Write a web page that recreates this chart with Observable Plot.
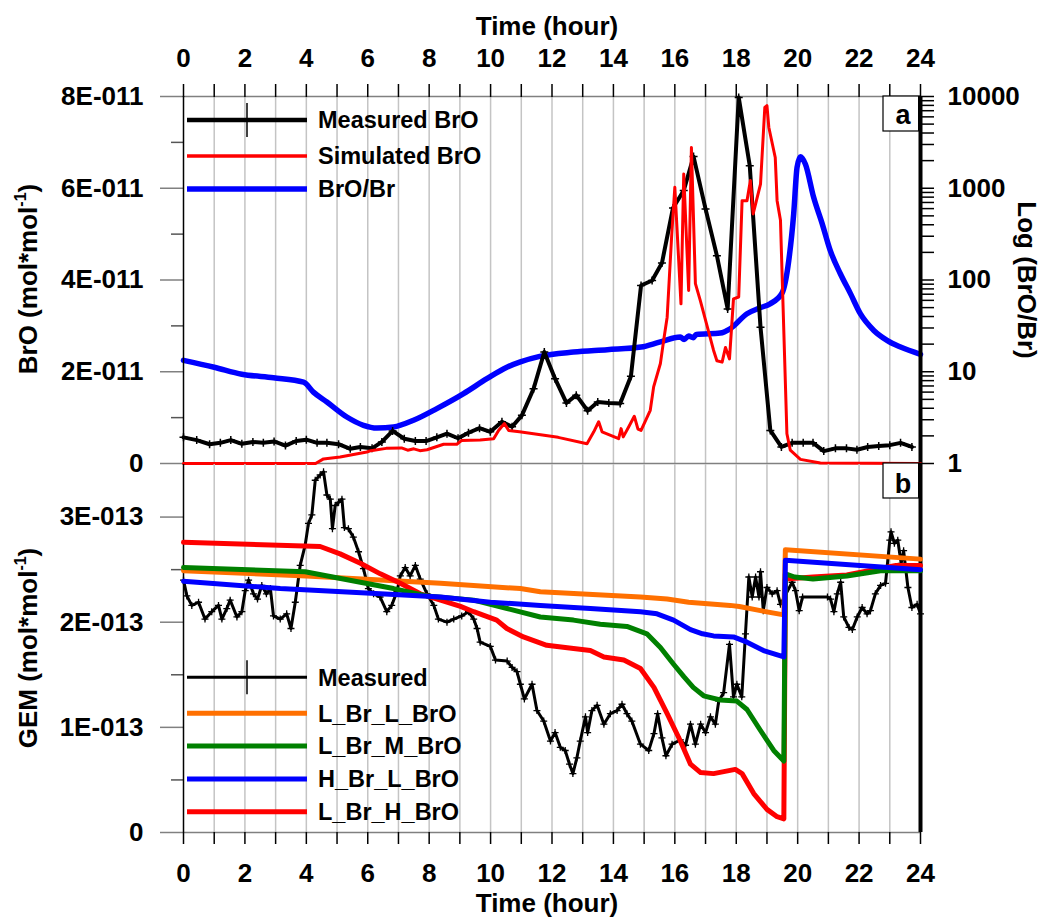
<!DOCTYPE html>
<html>
<head>
<meta charset="utf-8">
<script src="https://cdn.jsdelivr.net/npm/d3@7"></script>
<script src="https://cdn.jsdelivr.net/npm/@observablehq/plot@0.6"></script>
<style>
html, body { margin: 0; padding: 0; background: #fff; overflow: hidden; }
#chart { position: relative; width: 1043px; height: 918px; font-family: "Liberation Sans", Arial, sans-serif; font-weight: bold; color: #000; }
#chart svg { position: absolute; left: 0; overflow: visible; }
.ylab { position: absolute; white-space: nowrap; font-size: 26px; line-height: 1; transform: translate(-50%, -50%) rotate(-90deg); }
.ylab sup { font-size: 16px; vertical-align: 0; position: relative; top: -0.7em; }
</style>
</head>
<body>
<div id="chart"></div>
<script>
// ---------- axis ticks & labels ----------
const hours = d3.range(0, 25);
const hourLabels = hours.map(h => (h % 2 === 0 ? String(h) : ""));
const broTicks = [0, 2, 4, 6, 8];                 // units of 1E-011
const broTickLabels = ["0", "2E-011", "4E-011", "6E-011", "8E-011"];
const broMinorTicks = [1, 3, 5, 7];
const ratioTicks = [1, 10, 100, 1000, 10000];
const ratioTickLabels = ["1", "10", "100", "1000", "10000"];
const gemTicks = [0, 1, 2, 3];                      // units of 1E-013
const gemTickLabels = ["0", "1E-013", "2E-013", "3E-013"];
const gemMinorTicks = [0.5, 1.5, 2.5];
const legendA = ["Measured BrO", "Simulated BrO", "BrO/Br"];
const legendB = ["Measured", "L_Br_L_BrO", "L_Br_M_BrO", "H_Br_L_BrO", "L_Br_H_BrO"];

// ---------- panel a data: [hour, value] ----------
// BrO in units of 1E-011 mol/mol
const measuredBrO = [[0,0.57],[0.43,0.51],[0.85,0.42],[1.2,0.45],[1.54,0.51],[1.9,0.43],[2.26,0.47],[2.6,0.45],[2.95,0.48],[3.32,0.39],[3.67,0.49],[4.0,0.52],[4.35,0.45],[4.67,0.45],[5.05,0.42],[5.43,0.32],[5.76,0.36],[6.14,0.33],[6.46,0.47],[6.81,0.71],[7.19,0.54],[7.55,0.49],[7.9,0.49],[8.25,0.57],[8.58,0.65],[8.94,0.55],[9.28,0.67],[9.64,0.77],[9.99,0.69],[10.37,0.91],[10.7,0.80],[11.02,1.05],[11.4,1.63],[11.75,2.43],[12.1,1.85],[12.47,1.32],[12.79,1.49],[13.16,1.15],[13.49,1.34],[13.85,1.32],[14.22,1.31],[14.57,1.90],[14.9,3.88],[15.26,3.99],[15.58,4.37],[15.94,5.57],[16.29,5.95],[16.61,6.69],[17.0,5.55],[17.37,4.53],[17.72,3.37],[18.08,7.98],[18.44,6.49],[18.79,2.97],[19.11,0.72],[19.47,0.36],[19.82,0.45],[20.18,0.45],[20.5,0.45],[20.85,0.27],[21.23,0.33],[21.59,0.33],[21.93,0.30],[22.28,0.36],[22.64,0.38],[23.0,0.40],[23.35,0.45],[23.72,0.36]];
const simulatedBrO = [[0,0],[4.3,0],[4.56,0.10],[5.1,0.14],[5.97,0.25],[6.1,0.28],[6.6,0.33],[7.1,0.34],[7.3,0.29],[7.5,0.32],[7.7,0.28],[7.93,0.30],[8.2,0.36],[8.47,0.42],[8.9,0.42],[9.05,0.50],[9.66,0.51],[10.1,0.54],[10.26,0.72],[10.45,0.87],[10.59,0.72],[10.94,0.69],[12.2,0.57],[13.14,0.43],[13.36,0.69],[13.52,0.91],[13.63,0.69],[14.17,0.54],[14.25,0.76],[14.32,0.58],[14.5,0.80],[14.68,1.03],[14.8,0.75],[14.9,0.72],[15.2,1.16],[15.31,1.67],[15.53,2.18],[15.64,2.7],[15.75,3.19],[15.9,5.0],[16.0,6.02],[16.2,3.48],[16.29,6.31],[16.45,3.77],[16.54,6.89],[16.67,3.92],[16.83,3.55],[17.26,2.47],[17.37,2.24],[17.54,2.21],[17.65,2.53],[17.78,2.28],[17.91,3.59],[18.08,3.63],[18.19,5.73],[18.35,5.73],[18.46,6.17],[18.55,5.44],[18.79,6.09],[18.93,7.76],[19.0,7.80],[19.06,7.33],[19.27,6.67],[19.33,5.73],[19.44,5.30],[19.65,0.65],[19.76,0.29],[20.09,0.09],[20.74,0.01],[24,0]];
// BrO/Br ratio (log axis)
const broBrRatio = [[0,13.3],[1,11.2],[1.9,9.4],[2.93,8.6],[3.91,7.7],[4.23,6.0],[4.67,4.68],[5.32,3.21],[5.86,2.61],[6.3,2.44],[6.84,2.5],[7.49,2.96],[8.25,3.97],[9.12,5.78],[9.88,8.4],[10.53,11.2],[10.97,12.8],[11.6,14.7],[12.7,16.4],[13.8,17.4],[14.9,18.6],[15.5,21],[16.18,23.9],[16.3,22.5],[16.45,24.5],[16.6,23.5],[16.7,25.5],[17.48,26.4],[17.8,29.4],[18.35,42.9],[18.78,49.8],[19.1,55],[19.49,71.9],[19.71,163],[19.87,525],[19.98,1690],[20.09,2208],[20.25,1838],[20.52,796],[20.8,409],[21.06,210],[21.39,117],[21.72,71],[22.04,42.9],[22.48,28.2],[22.91,22],[23.35,18.6],[24,15.5]];

// ---------- panel b data: GEM in units of 1E-013 mol/mol ----------
const measuredGEM = [[0,2.40],[0.11,2.25],[0.27,2.16],[0.49,2.19],[0.7,2.03],[0.92,2.10],[1.14,2.16],[1.25,2.03],[1.41,2.13],[1.52,2.21],[1.74,2.05],[1.9,2.10],[2.01,2.30],[2.12,2.40],[2.28,2.27],[2.41,2.22],[2.55,2.35],[2.7,2.27],[2.83,2.32],[2.93,2.06],[3.15,2.03],[3.36,2.08],[3.5,1.94],[3.64,2.19],[3.8,2.54],[3.96,2.73],[4.07,2.94],[4.18,3.02],[4.29,3.35],[4.45,3.40],[4.56,3.43],[4.67,3.21],[4.78,3.17],[4.85,2.89],[4.94,3.11],[5.05,3.14],[5.16,3.17],[5.24,2.90],[5.37,2.89],[5.53,2.81],[5.7,2.67],[5.86,2.51],[6.02,2.32],[6.19,2.27],[6.4,2.24],[6.62,2.10],[6.78,2.16],[6.95,2.29],[7.06,2.44],[7.22,2.52],[7.38,2.44],[7.55,2.54],[7.71,2.41],[7.93,2.27],[8.15,2.16],[8.3,2.03],[8.58,2.00],[8.8,2.03],[9.06,2.06],[9.28,2.10],[9.45,2.03],[9.56,1.94],[9.66,1.81],[9.99,1.77],[10.16,1.64],[10.54,1.63],[10.7,1.57],[10.86,1.53],[10.97,1.41],[11.1,1.27],[11.35,1.41],[11.51,1.16],[11.73,1.06],[11.95,0.87],[12.1,0.95],[12.27,0.81],[12.43,0.78],[12.57,0.65],[12.68,0.56],[12.81,0.71],[12.92,0.87],[13.09,1.10],[13.16,0.95],[13.3,1.16],[13.47,1.21],[13.69,1.03],[13.9,1.13],[14.12,1.16],[14.28,1.22],[14.44,1.13],[14.6,1.06],[14.88,0.84],[15.15,0.78],[15.32,0.94],[15.44,1.13],[15.58,0.90],[15.71,0.73],[15.91,0.84],[16.18,0.88],[16.35,0.83],[16.51,1.03],[16.67,0.84],[16.84,1.03],[17.0,0.95],[17.16,1.10],[17.32,1.03],[17.43,1.25],[17.59,1.33],[17.78,1.79],[17.91,1.29],[18.02,1.41],[18.18,1.29],[18.3,1.89],[18.41,2.43],[18.52,2.24],[18.63,2.43],[18.74,2.24],[18.79,2.48],[18.88,2.11],[19.0,2.33],[19.17,2.27],[19.33,2.30],[19.44,2.17],[19.82,2.38],[19.93,2.30],[20.05,2.11],[20.16,2.24],[20.97,2.24],[21.07,2.22],[21.18,2.10],[21.29,2.27],[21.4,2.38],[21.5,2.05],[21.67,1.95],[21.78,1.93],[21.94,2.05],[22.1,2.14],[22.26,2.08],[22.37,2.11],[22.53,2.27],[22.7,2.35],[22.86,2.37],[23.0,2.78],[23.04,2.86],[23.15,2.75],[23.26,2.78],[23.37,2.56],[23.45,2.68],[23.59,2.33],[23.72,2.14],[23.89,2.17],[24,2.08]];
const lBrLBrO = [[0,2.49],[4,2.44],[8.37,2.37],[10.97,2.32],[11.62,2.29],[14.88,2.24],[15.75,2.22],[16.45,2.19],[17.8,2.16],[18.1,2.15],[18.79,2.11],[19.55,2.07],[19.6,2.69],[24,2.60]];
const lBrMBrO = [[0,2.52],[3.96,2.48],[5.76,2.38],[6.84,2.32],[7.93,2.25],[9.45,2.21],[10.54,2.13],[11.62,2.05],[12.7,2.02],[13.57,1.98],[14.44,1.96],[15.09,1.89],[15.53,1.76],[15.96,1.60],[16.3,1.48],[16.6,1.38],[16.94,1.30],[17.48,1.26],[18.02,1.25],[18.35,1.17],[18.79,0.97],[19.22,0.78],[19.55,0.68],[19.6,2.46],[19.9,2.43],[20.5,2.41],[21.6,2.44],[22.7,2.49],[24,2.49]];
const hBrLBrO = [[0,2.39],[3.15,2.32],[6.41,2.27],[8.37,2.24],[9.99,2.19],[11.62,2.16],[13.25,2.13],[14.88,2.10],[15.42,2.08],[15.96,2.02],[16.51,1.93],[16.9,1.89],[17.26,1.87],[17.91,1.86],[18.35,1.81],[18.89,1.73],[19.55,1.67],[19.6,2.59],[24,2.50]];
const lBrHBrO = [[0,2.76],[4.45,2.72],[5.1,2.65],[5.76,2.56],[6.41,2.46],[7.06,2.37],[7.71,2.27],[8.37,2.21],[9.02,2.15],[9.45,2.10],[10.2,2.02],[10.53,1.94],[11.07,1.86],[11.83,1.78],[12.7,1.75],[13.25,1.73],[13.69,1.67],[14.34,1.64],[14.88,1.56],[15.32,1.38],[15.75,1.13],[16.18,0.87],[16.51,0.65],[16.84,0.57],[17.26,0.56],[17.97,0.60],[18.19,0.56],[18.57,0.37],[19.0,0.22],[19.33,0.15],[19.55,0.13],[19.6,2.41],[20.5,2.43],[21.6,2.45],[23.2,2.54],[24,2.54]];

// ---------- styles ----------
const ORANGE = "#ff7000", GREEN = "#008000", BLUE = "#0000ff", RED = "#ff0000";
const W = 1043, ML = 183, MR = 123;
const FONT = "'Liberation Sans', Arial, sans-serif";
const svgStyle = {background: "none", fontFamily: FONT, fontWeight: "bold", fontSize: "26px", color: "black", overflow: "visible"};
const crossSymbol = {draw(ctx, size) { const r = Math.sqrt(size / Math.PI); ctx.moveTo(-r, 0); ctx.lineTo(r, 0); ctx.moveTo(0, -r); ctx.lineTo(0, r); }};
const X = d => d[0], Y = d => d[1];
const lab = (ticks, labels) => d => labels[ticks.indexOf(d)];
const ratioMinor = [1, 10, 100, 1000].flatMap(p => d3.range(2, 10).map(m => m * p));

const chart = document.getElementById("chart");

// ---------- panel a, log layer (grid, BrO/Br, right axis) ----------
const paLog = Plot.plot({
  width: W, height: 464, marginLeft: ML, marginRight: MR, marginTop: 96, marginBottom: 1,
  style: svgStyle,
  x: {domain: [0, 24], axis: null},
  y: {type: "log", domain: [1, 10000], axis: null},
  marks: [
    Plot.gridX({ticks: d3.range(1, 24), stroke: "#c4c4c4", strokeOpacity: 1, strokeWidth: 1.5}),
    Plot.line(broBrRatio, {x: X, y: Y, stroke: BLUE, strokeWidth: 5.5, curve: "monotone-x"}),
    Plot.axisY({anchor: "right", ticks: ratioMinor, tickSize: 13, tickFormat: () => "", stroke: "black", strokeWidth: 1.5, label: null}),
    Plot.axisY({anchor: "right", ticks: ratioTicks, tickSize: 13, tickPadding: 14, tickFormat: lab(ratioTicks, ratioTickLabels), stroke: "black", strokeWidth: 1.5, label: null}),
    Plot.ruleX([24], {stroke: "black", strokeWidth: 4}),
    Plot.text(["Log (BrO/Br)"], {frameAnchor: "right", textAnchor: "middle", dx: 106, rotate: 90, fontSize: 26, fontWeight: "bold"})
  ]
});
paLog.style.top = "0px";
chart.appendChild(paLog);

// ---------- panel a, main layer ----------
const pa = Plot.plot({
  width: W, height: 464, marginLeft: ML, marginRight: MR, marginTop: 96, marginBottom: 1,
  style: svgStyle,
  x: {domain: [0, 24], axis: null},
  y: {domain: [0, 8], axis: null},
  marks: [
    Plot.ruleY([0, 8], {stroke: "#808080", strokeWidth: 1.5}),
    Plot.axisY({ticks: broMinorTicks, tickSize: 12, tickFormat: () => "", stroke: "#555", strokeWidth: 1.5, label: null}),
    Plot.axisY({ticks: broTicks, tickSize: 23, tickPadding: 17, tickFormat: lab(broTicks, broTickLabels), stroke: "#808080", strokeWidth: 1.5, label: null}),
    Plot.ruleX([0], {stroke: "black", strokeWidth: 1.5}),
    Plot.axisX({anchor: "top", ticks: hours, tickSize: 13, tickPadding: 17, tickFormat: d => hourLabels[d], stroke: "black", strokeWidth: 1.5, label: null}),
    Plot.text(["Time (hour)"], {frameAnchor: "top", textAnchor: "middle", dy: -80, dx: -5, fontSize: 26, fontWeight: "bold"}),
    Plot.line(measuredBrO, {x: X, y: Y, stroke: "black", strokeWidth: 4}),
    Plot.dot(measuredBrO, {x: X, y: Y, symbol: crossSymbol, r: 4, fill: "none", stroke: "black", strokeWidth: 1.5}),
    Plot.line(simulatedBrO, {x: X, y: Y, stroke: RED, strokeWidth: 3})
  ]
});
pa.style.top = "0px";
chart.appendChild(pa);

// ---------- panel b ----------
const pb = Plot.plot({
  width: W, height: 455, marginLeft: ML, marginRight: MR, marginTop: 1, marginBottom: 86,
  style: svgStyle,
  x: {domain: [0, 24], axis: null},
  y: {domain: [0, 3.5], axis: null},
  marks: [
    Plot.gridX({ticks: d3.range(1, 24), stroke: "#c4c4c4", strokeOpacity: 1, strokeWidth: 1.5}),
    Plot.ruleY([0], {stroke: "#808080", strokeWidth: 1.5}),
    Plot.axisY({ticks: gemMinorTicks, tickSize: 12, tickFormat: () => "", stroke: "#555", strokeWidth: 1.5, label: null}),
    Plot.axisY({ticks: gemTicks, tickSize: 23, tickPadding: 17, tickFormat: lab(gemTicks, gemTickLabels), stroke: "#808080", strokeWidth: 1.5, label: null}),
    Plot.ruleX([0], {stroke: "black", strokeWidth: 1.5}),
    Plot.ruleX([24], {stroke: "black", strokeWidth: 4}),
    Plot.axisX({anchor: "bottom", ticks: hours, tickSize: 12, tickPadding: 19, tickFormat: d => hourLabels[d], stroke: "black", strokeWidth: 1.5, label: null}),
    Plot.text(["Time (hour)"], {frameAnchor: "bottom", textAnchor: "middle", dy: 79, dx: -5, fontSize: 26, fontWeight: "bold"}),
    Plot.line(measuredGEM, {x: X, y: Y, stroke: "black", strokeWidth: 3}),
    Plot.dot(measuredGEM, {x: X, y: Y, symbol: crossSymbol, r: 3.5, fill: "none", stroke: "black", strokeWidth: 1.3}),
    Plot.line(lBrLBrO, {x: X, y: Y, stroke: ORANGE, strokeWidth: 5}),
    Plot.line(lBrHBrO, {x: X, y: Y, stroke: RED, strokeWidth: 5}),
    Plot.line(lBrMBrO, {x: X, y: Y, stroke: GREEN, strokeWidth: 5}),
    Plot.line(hBrLBrO, {x: X, y: Y, stroke: BLUE, strokeWidth: 5})
  ]
});
pb.style.top = "463px";
chart.appendChild(pb);

// ---------- legends & panel tags ----------
function drawLegend(svg, labels, ys, styles) {
  const g = d3.select(svg).append("g").attr("font-family", FONT).attr("font-weight", "bold").attr("font-size", "23.5px").attr("text-anchor", "start");
  labels.forEach((t, i) => {
    const s = styles[i];
    g.append("line").attr("x1", 187).attr("x2", 307).attr("y1", ys[i]).attr("y2", ys[i]).attr("stroke", s.color).attr("stroke-width", s.width);
    if (s.marker) g.append("line").attr("x1", 247).attr("x2", 247).attr("y1", ys[i] - 17).attr("y2", ys[i] + 17).attr("stroke", "black").attr("stroke-width", 1.5);
    g.append("text").attr("x", 318).attr("y", ys[i]).attr("dy", "0.35em").attr("text-anchor", "start").attr("fill", "black").text(t);
  });
}
function drawTag(svg, y0, t, baseline) {
  const g = d3.select(svg).append("g");
  g.append("rect").attr("x", 883).attr("y", y0).attr("width", 37).attr("height", 35).attr("fill", "white").attr("stroke", "black").attr("stroke-width", 1.2);
  g.append("text").attr("x", 903).attr("y", baseline).attr("text-anchor", "middle").attr("font-size", "27px").attr("font-weight", "bold").attr("font-family", FONT).text(t);
  g.append("line").attr("x1", 920).attr("x2", 920).attr("y1", y0).attr("y2", y0 + 35).attr("stroke", "black").attr("stroke-width", 4);
}
drawLegend(pa, legendA, [120, 156, 189], [
  {color: "black", width: 4.5, marker: true},
  {color: RED, width: 3.5},
  {color: BLUE, width: 5.5}
]);
drawTag(pa, 96, "a", 124);
drawLegend(pb, legendB, [214.3, 250.3, 283, 316, 348.7], [
  {color: "black", width: 3, marker: true},
  {color: ORANGE, width: 5},
  {color: GREEN, width: 5},
  {color: BLUE, width: 5},
  {color: RED, width: 5}
]);
drawTag(pb, 0, "b", 30);

// ---------- rotated left axis titles ----------
function yTitle(html, cx, cy) {
  const d = document.createElement("div");
  d.className = "ylab";
  d.style.left = cx + "px";
  d.style.top = cy + "px";
  d.innerHTML = html;
  chart.appendChild(d);
}
yTitle("BrO (mol*mol<sup>-1</sup>)", 28, 279);
yTitle("GEM (mol*mol<sup>-1</sup>)", 28, 648);
</script>
</body>
</html>
